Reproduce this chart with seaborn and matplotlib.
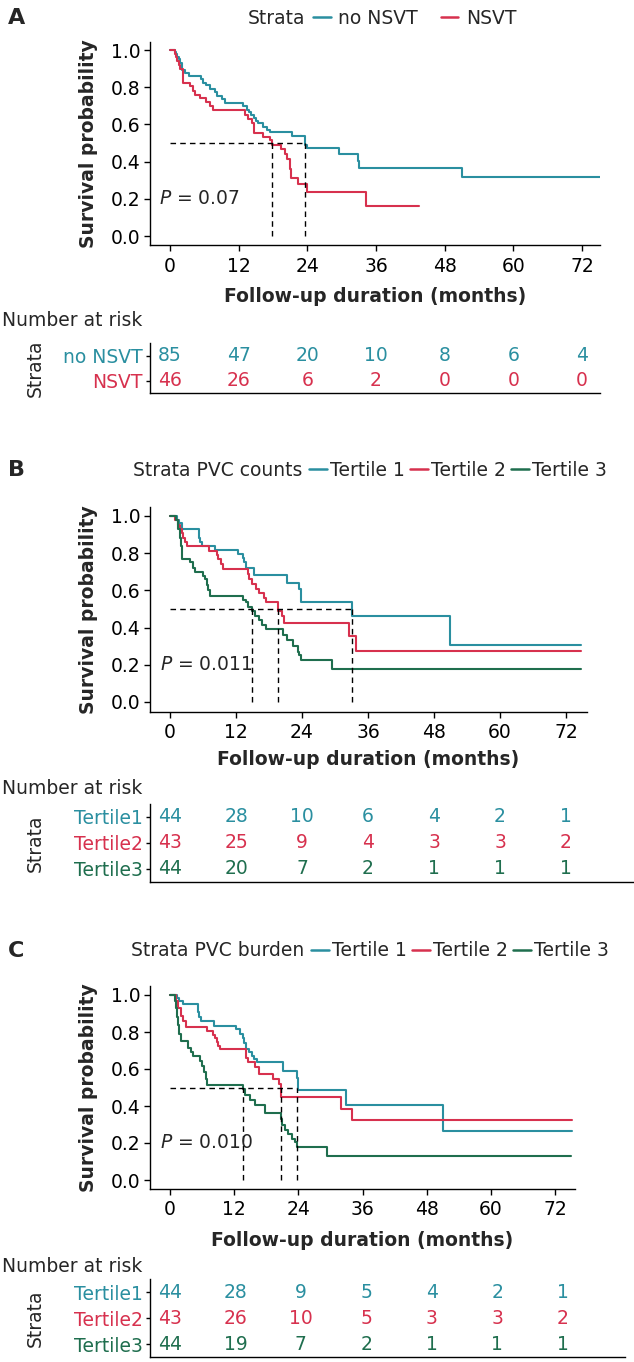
import matplotlib
matplotlib.use("Agg")
import matplotlib.pyplot as plt
import numpy as np
import pandas as pd
import seaborn as sns
from matplotlib.lines import Line2D

sns.set_theme(style="ticks")
plt.rcParams["font.family"] = ["DejaVu Sans"]
plt.rcParams["mathtext.fontset"] = "dejavusans"

TEAL = "#2A8FA0"
RED = "#D7314E"
GREEN = "#1F6E4E"
FS = 13.5

time_ticks = [0, 12, 24, 36, 48, 60, 72]
y_ticks = [0.0, 0.2, 0.4, 0.6, 0.8, 1.0]

# ---------------- Panel A data ----------------
a_names = ["no NSVT", "NSVT"]
a0_t = [0, 0.87, 1.05, 1.28, 1.52, 1.75, 2.04, 2.62, 3.38, 5.42, 5.83, 6.3, 7.0, 7.87, 8.28, 9.04, 9.62,
        12.83, 13.4, 13.8, 14.2, 14.6, 15.0, 15.45, 16.3, 16.9, 17.4, 21.3, 23.6, 24.0, 29.6, 32.8, 33.1, 51.0, 75.5]
a0_s = [1.0, 0.988, 0.976, 0.965, 0.953, 0.93, 0.89, 0.878, 0.862, 0.842, 0.825, 0.81, 0.79, 0.775, 0.755, 0.735,
        0.717, 0.70, 0.68, 0.665, 0.65, 0.635, 0.62, 0.605, 0.585, 0.57, 0.56, 0.54, 0.49, 0.475, 0.44, 0.405,
        0.365, 0.315, 0.315]
a1_t = [0, 0.9, 1.05, 1.28, 1.52, 1.75, 2.2, 3.5, 3.97, 4.37, 5.25, 6.3, 7.0, 7.58, 13.1, 13.7, 14.3, 14.6,
        14.75, 16.2, 17.5, 17.8, 19.4, 20.1, 20.5, 20.9, 21.2, 22.45, 24.0, 34.2, 43.6]
a1_s = [1.0, 0.98, 0.96, 0.94, 0.92, 0.90, 0.825, 0.805, 0.78, 0.76, 0.74, 0.72, 0.70, 0.675, 0.65, 0.63, 0.605,
        0.58, 0.555, 0.53, 0.515, 0.49, 0.47, 0.44, 0.415, 0.36, 0.31, 0.28, 0.235, 0.16, 0.16]
a_medians = [17.8, 23.6]
a_p = "0.07"
a_risk = [[85, 47, 20, 10, 8, 6, 4],
          [46, 26, 6, 2, 0, 0, 0]]

# ---------------- Panel B data ----------------
b_names = ["Tertile 1", "Tertile 2", "Tertile 3"]
b_rows = ["Tertile1", "Tertile2", "Tertile3"]
b0_t = [0, 1.21, 1.70, 2.12, 5.21, 5.45, 5.76, 8.18, 12.3, 13.2, 13.5, 13.9, 15.3, 21.3, 23.5, 23.8, 33.15, 50.9, 74.8]
b0_s = [1.0, 0.98, 0.96, 0.93, 0.88, 0.86, 0.84, 0.815, 0.795, 0.775, 0.75, 0.72, 0.685, 0.64, 0.61, 0.535, 0.46,
        0.305, 0.305]
b1_t = [0, 0.91, 1.52, 1.82, 2.12, 2.42, 2.73, 3.15, 7.15, 8.48, 8.79, 9.21, 9.7, 14.1, 14.4, 14.85, 15.6, 16.1,
        17.0, 17.4, 19.6, 20.3, 20.8, 32.6, 33.9, 74.8]
b1_s = [1.0, 0.977, 0.953, 0.93, 0.907, 0.884, 0.86, 0.837, 0.814, 0.79, 0.767, 0.744, 0.714, 0.69, 0.66, 0.635,
        0.61, 0.585, 0.56, 0.535, 0.49, 0.465, 0.425, 0.355, 0.275, 0.275]
b2_t = [0, 1.09, 1.52, 1.82, 2.0, 2.18, 3.64, 4.12, 4.55, 5.94, 6.36, 6.67, 6.97, 7.27, 13.2, 13.8, 14.2, 14.85,
        15.45, 16.2, 16.7, 17.4, 20.6, 21.2, 22.4, 23.3, 23.5, 23.8, 29.5, 74.8]
b2_s = [1.0, 0.977, 0.93, 0.884, 0.84, 0.77, 0.75, 0.72, 0.70, 0.68, 0.66, 0.63, 0.60, 0.57, 0.55, 0.535, 0.51,
        0.49, 0.465, 0.44, 0.415, 0.39, 0.36, 0.335, 0.30, 0.27, 0.25, 0.225, 0.18, 0.18]
b_medians = [14.85, 19.6, 33.15]
b_p = "0.011"
b_risk = [[44, 28, 10, 6, 4, 2, 1],
          [43, 25, 9, 4, 3, 3, 2],
          [44, 20, 7, 2, 1, 1, 1]]

# ---------------- Panel C data ----------------
c0_t = [0, 1.25, 1.75, 2.37, 5.17, 5.42, 5.74, 8.23, 12.34, 13.1, 13.6, 13.8, 14.3, 14.8, 15.3, 15.7, 16.2, 21.1,
        23.7, 23.9, 33.0, 51.1, 75.1]
c0_s = [1.0, 0.982, 0.965, 0.95, 0.91, 0.88, 0.86, 0.833, 0.816, 0.79, 0.767, 0.74, 0.708, 0.69, 0.672, 0.655,
        0.637, 0.59, 0.55, 0.484, 0.405, 0.266, 0.266]
c1_t = [0, 1.12, 1.56, 2.0, 2.49, 3.0, 7.0, 8.1, 8.4, 8.73, 9.04, 9.35, 14.15, 14.3, 14.65, 15.9, 16.7, 19.3, 20.4,
        20.7, 31.9, 34.0, 75.1]
c1_s = [1.0, 0.967, 0.928, 0.887, 0.86, 0.828, 0.806, 0.785, 0.765, 0.744, 0.725, 0.708, 0.685, 0.66, 0.637, 0.61,
        0.573, 0.546, 0.52, 0.451, 0.385, 0.322, 0.322]
c2_t = [0, 0.94, 1.12, 1.37, 1.56, 1.75, 2.0, 3.43, 3.87, 4.36, 5.6, 5.92, 6.36, 6.73, 6.98, 13.6, 14.1, 14.9, 15.9,
        17.8, 20.7, 20.9, 21.5, 22.1, 22.9, 23.4, 23.7, 29.3, 74.9]
c2_s = [1.0, 0.97, 0.93, 0.88, 0.84, 0.79, 0.752, 0.716, 0.69, 0.672, 0.645, 0.618, 0.582, 0.546, 0.516, 0.493,
        0.457, 0.43, 0.403, 0.362, 0.331, 0.295, 0.27, 0.25, 0.224, 0.206, 0.179, 0.131, 0.131]
c_medians = [13.6, 20.7, 23.8]
c_p = "0.010"
c_risk = [[44, 28, 9, 5, 4, 2, 1],
          [43, 26, 10, 5, 3, 3, 2],
          [44, 19, 7, 2, 1, 1, 1]]

W, H = 634, 1362
fig = plt.figure(figsize=(W / 100, H / 100), dpi=100)


def fax(l, r, t, b):
    return fig.add_axes([l / W, 1 - b / H, (r - l) / W, (b - t) / H])


def fy(y):
    return 1 - y / H


def panel(letter, title, title_right, names, row_names, colors, curves, medians, pval, risk, L):
    # L: layout in pixels
    scale = (L["x72"] - 170) / 72.0
    ax = fax(150, L["right"], L["top"], L["bottom"])
    frames = []
    for name, (t, s) in zip(names, curves):
        frames.append(pd.DataFrame({"time": t, "surv": s, "group": name}))
    df = pd.concat(frames, ignore_index=True)
    sns.lineplot(data=df, x="time", y="surv", hue="group", hue_order=names, palette=colors,
                 estimator=None, sort=False, drawstyle="steps-post", legend=False, ax=ax, linewidth=1.5)
    dash = (0, (4, 3))
    ax.plot([0, max(medians)], [0.5, 0.5], color="black", lw=1.0, ls=dash)
    ax.vlines(medians, 0, 0.5, colors="black", lw=1.0, linestyles=dash)
    ax.text(-1.9, 0.2, r"$\it{P}$ = " + pval, ha="left", va="center", fontsize=FS)

    ppu = L["y0"] - L["y1"]
    ax.set_xlim(-20 / scale, (L["right"] - 170) / scale)
    ax.set_ylim(-(L["bottom"] - L["y0"]) / ppu, 1 + (L["y1"] - L["top"]) / ppu)
    ax.set_xticks(time_ticks)
    ax.set_xticklabels([str(v) for v in time_ticks])
    ax.set_yticks(y_ticks)
    ax.set_yticklabels([f"{v:.1f}" for v in y_ticks])
    ax.tick_params(labelsize=FS, length=4, width=1, colors="black", pad=3)
    ax.tick_params(axis="x", pad=L["xpad"])
    for sp in ["left", "bottom"]:
        ax.spines[sp].set_linewidth(1.0)
        ax.spines[sp].set_color("black")
    sns.despine(ax=ax)
    ax.set_xlabel("Follow-up duration (months)", fontsize=FS, fontweight="bold")
    ax.set_ylabel("Survival probability", fontsize=FS, fontweight="bold")
    hpx = L["bottom"] - L["top"]
    wpx = L["right"] - 150
    ax.xaxis.set_label_coords(0.5, -(L["xlab"] - L["bottom"]) / hpx)
    ax.xaxis.label.set_va("center")
    ax.yaxis.set_label_coords((98 - 150) / wpx, 0.5)

    # letter + legend
    fig.text(8 / W, fy(L["ly"]), letter, fontsize=16, fontweight="bold", ha="left", va="center")
    fig.text(title_right / W, fy(L["ly"]), title, fontsize=FS, ha="right", va="center")
    handles = [Line2D([0], [0], color=c, lw=1.8) for c in colors]
    fig.legend(handles, names, loc="center left", bbox_to_anchor=(L["hx"] / W, fy(L["ly"])),
               ncol=len(names), frameon=False, borderaxespad=0, borderpad=0, handlelength=0.95,
               handletextpad=L["htp"], columnspacing=L["cs"], fontsize=FS)

    # risk table
    fig.text(2 / W, fy(L["nar"]), "Number at risk", fontsize=FS, ha="left", va="center")
    n = len(row_names)
    tax = fax(150, L["tright"], L["ttop"], L["tbottom"])
    tscale = scale * L.get("tstretch", 1.0)
    tax.set_xlim(-20 / tscale, (L["tright"] - 170) / tscale)
    tax.set_ylim(-0.5, n - 0.5)
    for i, (rv, c) in enumerate(zip(risk, colors)):
        for tt, v in zip(time_ticks, rv):
            tax.text(tt, n - 1 - i, str(v), ha="center", va="center", color=c, fontsize=FS)
    tax.set_xticks([])
    tax.set_yticks([n - 1 - i for i in range(n)])
    tax.set_yticklabels(row_names, fontsize=FS)
    tax.tick_params(axis="y", length=3, width=1, colors="black", pad=2)
    for lab, c in zip(tax.get_yticklabels(), colors):
        lab.set_color(c)
    for sp in ["left", "bottom"]:
        tax.spines[sp].set_linewidth(1.0)
        tax.spines[sp].set_color("black")
    sns.despine(ax=tax)
    tax.set_facecolor("none")
    fig.text(35 / W, fy((L["ttop"] + L["tbottom"]) / 2), "Strata", rotation=90, fontsize=FS,
             ha="center", va="center")


panel("A", "Strata", 305, a_names, a_names, [TEAL, RED],
      [(a0_t, a0_s), (a1_t, a1_s)], a_medians, a_p, a_risk,
      dict(x72=582, right=600, top=42, bottom=245, y1=50, y0=236, xlab=296, xpad=5, ly=18, hx=313,
           htp=0.4, cs=1.2, nar=321, tright=600, ttop=343, tbottom=393))

panel("B", "Strata PVC counts", 302, b_names, b_rows, [TEAL, RED, GREEN],
      [(b0_t, b0_s), (b1_t, b1_s), (b2_t, b2_s)], b_medians, b_p, b_risk,
      dict(x72=566, right=587, top=507, bottom=712, y1=516, y0=702, xlab=760, xpad=4, ly=470, hx=309,
           htp=0.15, cs=0.3, nar=789, tright=634, ttop=804, tbottom=882))

panel("C", "Strata PVC burden", 304, b_names, b_rows, [TEAL, RED, GREEN],
      [(c0_t, c0_s), (c1_t, c1_s), (c2_t, c2_s)], c_medians, c_p, c_risk,
      dict(x72=555, right=575, top=986, bottom=1189, y1=995, y0=1180, xlab=1240, xpad=4, ly=951, hx=311,
           htp=0.15, cs=0.3, nar=1267, tright=625, ttop=1279, tbottom=1357, tstretch=1.02))

fig.savefig("out.png", dpi=100)
